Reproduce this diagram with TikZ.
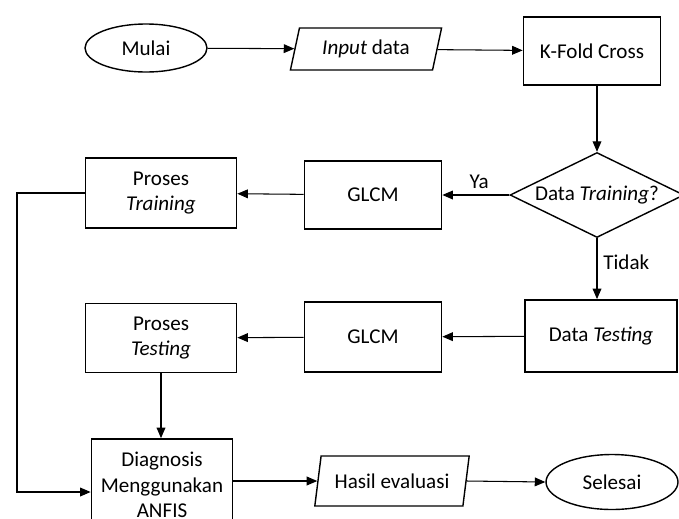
\documentclass[tikz,border=0pt]{standalone}
\usepackage{fontspec}
\setmainfont{Carlito}
\usetikzlibrary{shapes.geometric,arrows.meta}
\tikzset{box/.style={draw,line width=1pt,minimum width=2.74cm,minimum height=1.36cm,align=center,inner sep=1pt},
         terminal/.style={draw,ellipse,line width=0.8pt,minimum width=2.44cm,minimum height=0.96cm,inner sep=1pt},
         io/.style={draw,trapezium,trapezium left angle=74,trapezium right angle=106,
                    trapezium stretches=true,line width=0.8pt,minimum width=3.04cm,minimum height=0.84cm,inner sep=1pt},
         decision/.style={draw,diamond,aspect=2,inner sep=0pt,line width=0.8pt,
                    minimum width=3.48cm,minimum height=1.7cm},
         line/.style={draw,line width=0.6pt,-{Triangle[length=6pt,width=5pt]}}
         }
\begin{document}
\begin{tikzpicture}[x=0.02cm,y=-0.02cm,font=\fontsize{12}{14.5}\selectfont]
\useasboundingbox (0,0) rectangle (679,518);
\clip (0,0) rectangle (679,518);
\node[terminal] (mulai) at (146,48) {Mulai};
\node[io] (input) at (366,49) {\textit{Input} data};
\node[box] (kfold) at (592,51) {K-Fold Cross};
\node[decision] (cek) at (597,195) {Data \textit{Training}?};
\node[box] (glcma) at (373,195) {GLCM};
\node[box,minimum width=3.02cm,minimum height=1.4cm] (latih) at (161,193) {Proses\\\textit{Training}};
\node[box,minimum width=3.04cm,minimum height=1.44cm] (uji) at (601,336) {Data \textit{Testing}};
\node[box,minimum height=1.4cm] (glcmb) at (373,337) {GLCM};
\node[box,minimum width=3.02cm,minimum height=1.38cm] (prosesuji) at (161,338) {Proses\\\textit{Testing}};
\node[box,minimum width=2.82cm,minimum height=1.84cm] (diag) at (162,485) {Diagnosis\\Menggunakan\\ANFIS};
\node[io,minimum width=3.1cm,minimum height=1cm] (hasil) at (392,481) {Hasil evaluasi};
\node[terminal,minimum width=2.64cm,minimum height=1.1cm] (selesai) at (612,482) {Selesai};
\coordinate (kiri) at (17,492);
\draw[line] (mulai) -- (input);
\draw[line] (input) -- (kfold);
\draw[line] (kfold.south -| cek.north) -- (cek.north);
\draw[line] (cek.west) -- node[above,pos=0.45] {Ya} (glcma.east);
\draw[line] (glcma) -- (latih);
\draw[line] (cek.south) -- node[right,pos=0.4] {Tidak} (cek.south |- uji.north);
\draw[line] (uji) -- (glcmb);
\draw[line] (glcmb) -- (prosesuji);
\draw[line] (prosesuji) -- (prosesuji |- diag.north);
\draw[line] (latih.west) -| (kiri) -- (kiri -| diag.west);
\draw[line] (diag.east |- hasil.west) -- (hasil.west);
\draw[line] (hasil.east) -- (selesai.west);
\end{tikzpicture}
\end{document}
